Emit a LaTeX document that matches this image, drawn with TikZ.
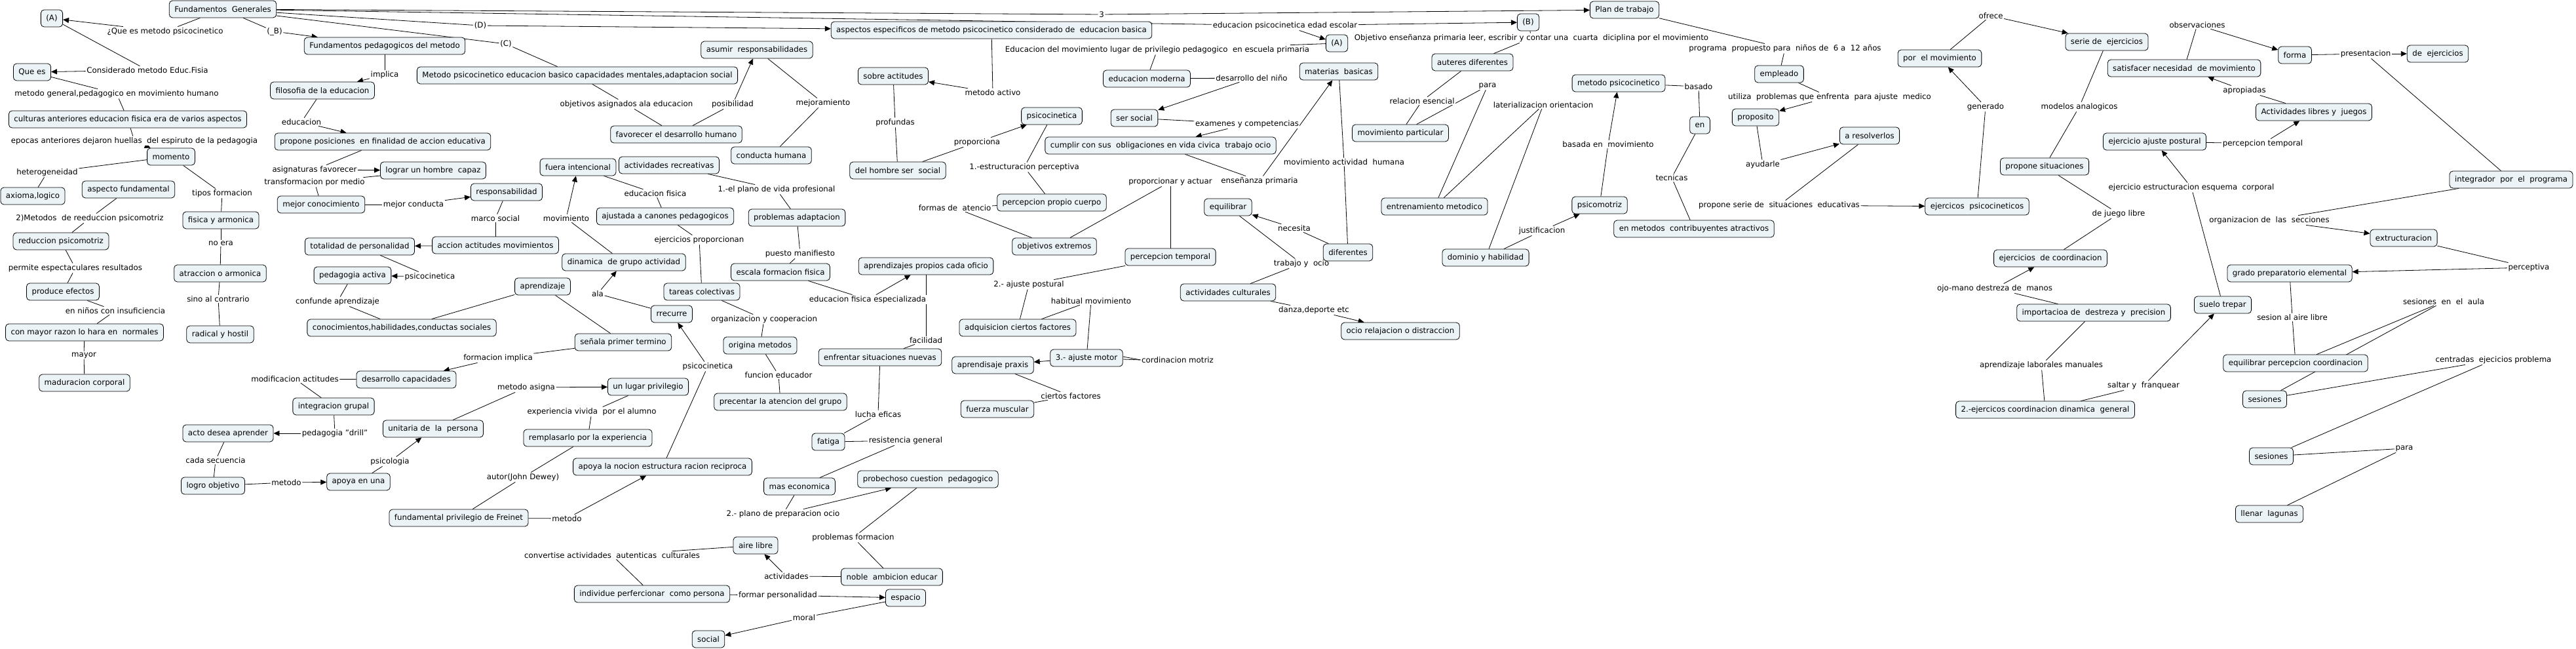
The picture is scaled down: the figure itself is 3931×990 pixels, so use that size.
\documentclass[tikz,border=0pt]{standalone}
\usepackage{fontspec}
\setmainfont{DejaVu Sans}
\usepackage{tikz}
\usetikzlibrary{arrows.meta, positioning}
\definecolor{conceptfill}{RGB}{236,243,246}
\pgfdeclarelayer{background}
\pgfsetlayers{background,main}

\begin{document}
\begin{tikzpicture}[x=1pt, y=-1pt,
    font=\fontsize{11.8}{14}\selectfont,
    concept/.style={rectangle, draw=black, line width=0.8pt, fill=conceptfill,
                    rounded corners=5pt, inner xsep=8pt, inner ysep=4pt, minimum height=26pt},
    phrase/.style={fill=white, inner sep=1.5pt},
    lnk/.style={line width=0.8pt},
    lnka/.style={lnk, -{Triangle[length=9pt,width=8pt]}}
]
    \useasboundingbox (0,0) rectangle (3931,990);

    % Left column
    \node[concept] (fg) at (340,14) {Fundamentos~~Generales};
    \node[concept] (A1) at (79,28) {(A)};
    \node[concept] (queEs) at (49,110) {Que es};
    \node[concept] (cult) at (195,182) {culturas anteriores educacion fisica era de varios aspectos};
    \node[concept] (mom) at (261,239) {momento};
    \node[concept] (axi) at (50,299) {axioma,logico};
    \node[concept] (aspf) at (196,289) {aspecto fundamental};
    \node[concept] (fisarm) at (337,336) {fisica y armonica};
    \node[concept] (redp) at (93,368) {reduccion psicomotriz};
    \node[concept] (atra) at (336,417) {atraccion o armonica};
    \node[concept] (produce) at (96,445) {produce efectos};
    \node[concept] (conmay) at (129,507) {con mayor razon lo hara en~~normales};
    \node[concept] (radical) at (336,510) {radical y hostil};
    \node[concept] (madur) at (129,584) {maduracion corporal};

    \node[phrase] (lQue) at (252,48) {¿Que es metodo psicocinetico};
    \node[phrase] (lB) at (419,48) {(\_B)};
    \node[phrase] (lCons) at (225,107) {Considerado metodo Educ.Fisia};
    \node[phrase] (lMetg) at (178,143) {metodo general,pedagogico en movimiento humano};
    \node[phrase] (lEpo) at (205,215) {epocas anteriores dejaron huellas~~del espiruto de la pedagogia};
    \node[phrase] (lHet) at (72,263) {heterogeneidad};
    \node[phrase] (lTip) at (339,295) {tipos formacion};
    \node[phrase] (lMet2) at (137,333) {2)Metodos~~de reeduccion psicomotriz};
    \node[phrase] (lNo) at (337,371) {no era};
    \node[phrase] (lPerm) at (115,409) {permite espectaculares resultados};
    \node[phrase] (lSino) at (333,456) {sino al contrario};
    \node[phrase] (lNin) at (176,474) {en niños con insuficiencia};
    \node[phrase] (lMay) at (128,542) {mayor};

    % Fundamentos pedagogicos
    \node[concept] (fp) at (587,70) {Fundamentos pedagogicos del metodo};
    \node[concept] (filo) at (492,138) {filosofia de la educacion};
    \node[concept] (propos) at (584,216) {propone posiciones~~en finalidad de accion educativa};
    \node[concept] (lograr) at (661,260) {lograr un hombre~~capaz};
    \node[concept] (mejcon) at (490,312) {mejor conocimiento};
    \node[concept] (resp) at (773,293) {responsabilidad};
    \node[concept] (accion) at (756,374) {accion actitudes movimientos};
    \node[concept] (totp) at (549,376) {totalidad de personalidad};
    \node[concept] (pedact) at (538,420) {pedagogia activa};
    \node[concept] (conoc) at (613,500) {conocimientos,habilidades,conductas sociales};
    \node[concept] (desc) at (620,579) {desarrollo capacidades};
    \node[concept] (integ) at (509,620) {integracion grupal};
    \node[concept] (acto) at (348,661) {acto desea aprender};
    \node[concept] (unit) at (661,654) {unitaria de~~la~~persona};
    \node[concept] (logro) at (325,741) {logro objetivo};
    \node[concept] (apoya1) at (547,735) {apoya en una};
    \node[concept] (freinet) at (700,790) {fundamental privilegio de Freinet};

    \node[phrase] (lImp) at (587,114) {implica};
    \node[phrase] (lEdu) at (460,186) {educacion};
    \node[phrase] (lAsig) at (480,259) {asignaturas favorecer};
    \node[phrase] (lTrans) at (480,278) {transformacion por medio};
    \node[phrase] (lMejc) at (631,312) {mejor conducta};
    \node[phrase] (lMarco) at (756,333) {marco social};
    \node[phrase] (lPsi1) at (656,422) {psicocinetica};
    \node[phrase] (lConf) at (515,460) {confunde aprendizaje};
    \node[phrase] (lMod) at (450,578) {modificacion actitudes};
    \node[phrase] (lDrill) at (511,661) {pedagogia "drill"};
    \node[phrase] (lCada) at (329,702) {cada secuencia};
    \node[phrase] (lPsiC) at (595,704) {psicologia};
    \node[phrase] (lMet3) at (437,736) {metodo};

    % Metodo psicocinetico (C)
    \node[concept] (metpsi) at (881,115) {Metodo psicocinetico educacion basico capacidades mentales,adaptacion social};
    \node[concept] (asumir) at (1155,76) {asumir~~responsabilidades};
    \node[concept] (favor) at (1032,205) {favorecer el desarrollo humano};
    \node[concept] (conduc) at (1177,237) {conducta humana};
    \node[concept] (fuera) at (882,255) {fuera intencional};
    \node[concept] (actrec) at (1021,252) {actividades recreativas};
    \node[concept] (ajust) at (1015,330) {ajustada a canones pedagogicos};
    \node[concept] (probad) at (1216,332) {problemas adaptacion};
    \node[concept] (dinam) at (952,400) {dinamica~~de grupo actividad};
    \node[concept] (escala) at (1191,415) {escala formacion fisica};
    \node[concept] (aprend) at (828,437) {aprendizaje};
    \node[concept] (tareas) at (1071,445) {tareas colectivas};
    \node[concept] (rrec) at (1025,479) {rrecurre};
    \node[concept] (senala) at (951,522) {señala primer termino};
    \node[concept] (origina) at (1160,527) {origina metodos};
    \node[concept] (lugar) at (989,590) {un lugar privilegio};
    \node[concept] (precent) at (1191,613) {precentar la atencion del grupo};
    \node[concept] (rempl) at (897,668) {remplasarlo por la experiencia};
    \node[concept] (apoya2) at (1011,712) {apoya la nocion estructura racion reciproca};
    \node[concept] (fatiga) at (1264,674) {fatiga};
    \node[concept] (masec) at (1220,742) {mas economica};
    \node[concept] (aire) at (1153,832) {aire libre};
    \node[concept] (noble) at (1361,880) {noble~~ambicion educar};
    \node[concept] (indiv) at (995,906) {individue perfercionar~~como persona};
    \node[concept] (espacio) at (1382,912) {espacio};
    \node[concept] (social) at (1081,975) {social};

    \node[phrase] (lD) at (733,39) {(D)};
    \node[phrase] (lC) at (772,67) {(C)};
    \node[phrase] (lObj) at (956,159) {objetivos asignados ala educacion};
    \node[phrase] (lPos) at (1118,159) {posibilidad};
    \node[phrase] (lMej) at (1256,157) {mejoramiento};
    \node[phrase] (lEdf) at (1000,295) {educacion fisica};
    \node[phrase] (lPlano) at (1185,289) {1.-el plano de vida profesional};
    \node[phrase] (lMov) at (864,333) {movimiento};
    \node[phrase] (lEjer) at (1067,366) {ejercicios proporcionan};
    \node[phrase] (lPuesto) at (1221,387) {puesto manifiesto};
    \node[phrase] (lAla) at (912,448) {ala};
    \node[phrase] (lEdfe) at (1324,457) {educacion fisica especializada};
    \node[phrase] (lOrg) at (1166,487) {organizacion y cooperacion};
    \node[phrase] (lForm) at (760,546) {formacion implica};
    \node[phrase] (lPsi2) at (1080,559) {psicocinetica};
    \node[phrase] (lFunc) at (1188,572) {funcion educador};
    \node[phrase] (lAsigna) at (803,591) {metodo asigna};
    \node[phrase] (lExp) at (903,628) {experiencia vivida~~por el alumno};
    \node[phrase] (lAutor) at (798,728) {autor(John Dewey)};
    \node[phrase] (lMet4) at (865,791) {metodo};
    \node[phrase] (lPlano2) at (1195,784) {2.- plano de preparacion ocio};
    \node[phrase] (lProbf) at (1302,820) {problemas formacion};
    \node[phrase] (lConv) at (934,847) {convertise actividades~~autenticas~~culturales};
    \node[phrase] (lAct) at (1200,879) {actividades};
    \node[phrase] (lFormp) at (1187,908) {formar personalidad};
    \node[phrase] (lMoral) at (1227,942) {moral};

    % Aspectos especificos (D)
    \node[concept] (aspe) at (1513,46) {aspectos especificos de metodo psicocinetico considerado de~~educacion basica};
    \node[concept] (sobre) at (1363,116) {sobre actitudes};
    \node[concept] (edmod) at (1750,120) {educacion moderna};
    \node[concept] (psico) at (1605,177) {psicocinetica};
    \node[concept] (sersoc) at (1731,180) {ser social};
    \node[concept] (cumplir) at (1771,222) {cumplir con sus~~obligaciones en vida civica~~trabajo ocio};
    \node[concept] (delhom) at (1370,260) {del hombre ser~~social};
    \node[concept] (percpc) at (1605,309) {percepcion propio cuerpo};
    \node[concept] (equil) at (1874,316) {equilibrar};
    \node[concept] (objext) at (1609,376) {objetivos extremos};
    \node[concept] (perctemp) at (1786,392) {percepcion temporal};
    \node[concept] (aprof) at (1413,406) {aprendizajes propios cada oficio};
    \node[concept] (actcult) at (1874,446) {actividades culturales};
    \node[concept] (adq) at (1553,500) {adquisicion ciertos factores};
    \node[concept] (enfr) at (1343,545) {enfrentar situaciones nuevas};
    \node[concept] (aprax) at (1515,557) {aprendisaje praxis};
    \node[concept] (ajmot) at (1658,546) {3.- ajuste motor};
    \node[concept] (fuerza) at (1522,624) {fuerza muscular};
    \node[concept] (probech) at (1416,731) {probechoso cuestion~~pedagogico};
    \node[concept] (ocio) at (2137,505) {ocio relajacion o distraccion};

    \node[phrase] (l3) at (1681,22) {3};
    \node[phrase] (lEdpsi) at (1961,39) {educacion psicocinetica edad escolar};
    \node[phrase] (lActivo) at (1515,141) {metodo activo};
    \node[phrase] (lEdmov) at (1766,76) {Educacion del movimiento lugar de privilegio pedagogico~~en escuela primaria};
    \node[phrase] (lDesn) at (1910,119) {desarrollo del niño};
    \node[phrase] (lProf) at (1366,187) {profundas};
    \node[phrase] (lExam) at (1903,189) {examenes y competencias};
    \node[phrase] (lProp) at (1491,217) {proporciona};
    \node[phrase] (lEstr) at (1563,255) {1.-estructuracion perceptiva};
    \node[phrase] (lPyA) at (1786,277) {proporcionar y actuar};
    \node[phrase] (lEns) at (1922,276) {enseñanza primaria};
    \node[phrase] (lFormas) at (1457,317) {formas de~~atencio};
    \node[phrase] (lAjp) at (1570,434) {2.- ajuste postural};
    \node[phrase] (lHab) at (1665,459) {habitual movimiento};
    \node[phrase] (lNec) at (1975,348) {necesita};
    \node[phrase] (lTrab) at (1986,402) {trabajo y~~ocio};
    \node[phrase] (lDanza) at (2005,473) {danza,deporte etc};
    \node[phrase] (lFac) at (1413,519) {facilidad};
    \node[phrase] (lCord) at (1797,549) {cordinacion motriz};
    \node[phrase] (lCier) at (1634,604) {ciertos factores};
    \node[phrase] (lLucha) at (1340,632) {lucha eficas};
    \node[phrase] (lRes) at (1382,672) {resistencia general};

    % Plan de trabajo
    \node[concept] (A2) at (2040,66) {(A)};
    \node[concept] (B) at (2332,34) {(B)};
    \node[concept] (plan) at (2479,15) {Plan de trabajo};
    \node[concept] (materias) at (2043,109) {materias~~basicas};
    \node[concept] (diferentes) at (2057,385) {diferentes};
    \node[concept] (auteres) at (2247,95) {auteres diferentes};
    \node[concept] (movpart) at (2137,203) {movimiento particular};
    \node[concept] (entren) at (2189,315) {entrenamiento metodico};
    \node[concept] (dominio) at (2267,393) {dominio y habilidad};
    \node[concept] (psicomot) at (2441,313) {psicomotriz};
    \node[concept] (metpsic) at (2470,127) {metodo psicocinetico};
    \node[concept] (en) at (2594,191) {en};
    \node[concept] (enmet) at (2585,349) {en metodos~~contribuyentes atractivos};
    \node[concept] (empleado) at (2715,113) {empleado};
    \node[concept] (propo) at (2679,179) {proposito};
    \node[concept] (resol) at (2853,207) {a resolverlos};
    \node[concept] (ejpsi) at (3017,315) {ejercicos~~psicocineticos};
    \node[concept] (porel) at (2960,89) {por~~el movimiento};

    \node[phrase] (lMovh) at (2051,247) {movimiento actividad~~humana};
    \node[phrase] (lObjE) at (2337,58) {Objetivo enseñanza primaria leer, escribir y contar una~~cuarta~~diciplina por el movimiento};
    \node[phrase] (lProg) at (2724,74) {programa~~propuesto para~~niños de~~6 a~~12 años};
    \node[phrase] (lPara1) at (2270,131) {para};
    \node[phrase] (lRel) at (2170,154) {relacion esencial};
    \node[phrase] (lLat) at (2355,160) {laterializacion orientacion};
    \node[phrase] (lJust) at (2353,352) {justificacion};
    \node[phrase] (lBasm) at (2454,220) {basada en~~movimiento};
    \node[phrase] (lBasado) at (2592,132) {basado};
    \node[phrase] (lTec) at (2551,271) {tecnicas};
    \node[phrase] (lPropS) at (2715,313) {propone serie de~~situaciones~~educativas};
    \node[phrase] (lUtil) at (2792,148) {utiliza~~problemas que enfrenta~~para ajuste~~medico};
    \node[phrase] (lAyu) at (2690,251) {ayudarle};
    \node[phrase] (lOfr) at (3038,24) {ofrece};
    \node[phrase] (lGen) at (3030,163) {generado};

    % Ejercicios
    \node[concept] (serie) at (3215,64) {serie de~~ejercicios};
    \node[concept] (propsit) at (3120,254) {propone situaciones};
    \node[concept] (ejcoord) at (3129,394) {ejercicios~~de coordinacion};
    \node[concept] (import) at (3195,477) {importacioa de~~destreza y~~precision};
    \node[concept] (ejgen) at (3121,625) {2.-ejercicos coordinacion dinamica~~general};
    \node[concept] (satisf) at (3333,104) {satisfacer necesidad~~de movimiento};
    \node[concept] (ejaj) at (3288,216) {ejercicio ajuste postural};
    \node[concept] (forma) at (3502,84) {forma};
    \node[concept] (deej) at (3720,82) {de~~ejercicios};
    \node[concept] (actlib) at (3531,171) {Actividades libres y~~juegos};
    \node[concept] (integr) at (3832,274) {integrador~~por~~el~~programa};
    \node[concept] (extr) at (3668,363) {extructuracion};
    \node[concept] (grado) at (3494,417) {grado preparatorio elemental};
    \node[concept] (suelo) at (3392,465) {suelo trepar};
    \node[concept] (eqperc) at (3503,554) {equilibrar percepcion coordinacion};
    \node[concept] (ses1) at (3456,609) {sesiones};
    \node[concept] (ses2) at (3466,696) {sesiones};
    \node[concept] (llenar) at (3463,784) {llenar~~lagunas};

    \node[phrase] (lModa) at (3173,163) {modelos analogicos};
    \node[phrase] (lJueg) at (3233,326) {de juego libre};
    \node[phrase] (lOjo) at (3044,440) {ojo-mano destreza de~~manos};
    \node[phrase] (lEjest) at (3344,286) {ejercicio estructuracion esquema~~corporal};
    \node[phrase] (lAprl) at (3115,557) {aprendizaje laborales manuales};
    \node[phrase] (lSalt) at (3271,588) {saltar y~~franquear};
    \node[phrase] (lObs) at (3353,38) {observaciones};
    \node[phrase] (lPres) at (3610,82) {presentacion};
    \node[phrase] (lApro) at (3425,138) {apropiadas};
    \node[phrase] (lPerct) at (3453,219) {percepcion temporal};
    \node[phrase] (lOrgs) at (3463,336) {organizacion de~~las~~secciones};
    \node[phrase] (lPercp) at (3859,408) {perceptiva};
    \node[phrase] (lSesa) at (3498,484) {sesion al aire libre};
    \node[phrase] (lSesau) at (3729,460) {sesiones~~en~~el~~aula};
    \node[phrase] (lCent) at (3805,549) {centradas~~ejecicios problema};
    \node[phrase] (lPara2) at (3669,684) {para};

    % Links
    \begin{pgfonlayer}{background}
    \fill[white] (0,0) rectangle (3931,990);
    \draw[lnk] (fg) -- (lQue); \draw[lnka] (lQue) -- (A1);
    \draw[lnk] (A1) -- (lCons); \draw[lnka] (lCons) -- (queEs);
    \draw[lnk] (queEs) -- (lMetg); \draw[lnk] (lMetg) -- (cult);
    \draw[lnk] (cult) -- (lEpo); \draw[lnka] (lEpo) -- (mom);
    \draw[lnk] (mom) -- (lHet); \draw[lnk] (lHet) -- (axi);
    \draw[lnk] (aspf) -- (lMet2); \draw[lnk] (lMet2) -- (redp);
    \draw[lnk] (redp) -- (lPerm); \draw[lnk] (lPerm) -- (produce);
    \draw[lnk] (produce) -- (lNin); \draw[lnk] (lNin) -- (conmay);
    \draw[lnk] (conmay) -- (lMay); \draw[lnk] (lMay) -- (madur);
    \draw[lnk] (mom) -- (lTip); \draw[lnk] (lTip) -- (fisarm);
    \draw[lnk] (fisarm) -- (lNo); \draw[lnk] (lNo) -- (atra);
    \draw[lnk] (atra) -- (lSino); \draw[lnk] (lSino) -- (radical);

    \draw[lnk] (fg) -- (lB); \draw[lnka] (lB) -- (fp);
    \draw[lnk] (fp) -- (lImp); \draw[lnka] (lImp) -- (filo);
    \draw[lnk] (filo) -- (lEdu); \draw[lnka] (lEdu) -- (propos);
    \draw[lnk] (propos) -- (lAsig); \draw[lnka] (lAsig) -- (lograr);
    \draw[lnk] (lograr) -- (lTrans); \draw[lnk] (lTrans) -- (mejcon);
    \draw[lnk] (mejcon) -- (lMejc); \draw[lnka] (lMejc) -- (resp);
    \draw[lnk] (resp) -- (lMarco); \draw[lnk] (lMarco) -- (accion);
    \draw[lnka] (accion) -- (totp);
    \draw[lnk] (totp) -- (lPsi1); \draw[lnka] (lPsi1) -- (pedact);
    \draw[lnk] (pedact) -- (lConf); \draw[lnk] (lConf) -- (conoc);

    \draw[lnk] (fg) -- (lD); \draw[lnka] (lD) -- (aspe);
    \draw[lnk] (fg) -- (lC); \draw[lnk] (lC) -- (metpsi);
    \draw[lnk] (fg) -- (l3); \draw[lnka] (l3) -- (plan);
    \draw[lnk] (fg) -- (lEdpsi); \draw[lnka] (lEdpsi) -- (B); \draw[lnka] (lEdpsi) -- (A2);

    \draw[lnk] (metpsi) -- (lObj); \draw[lnk] (lObj) -- (favor);
    \draw[lnk] (favor) -- (lPos); \draw[lnka] (lPos) -- (asumir);
    \draw[lnk] (asumir) -- (lMej); \draw[lnk] (lMej) -- (conduc);
    \draw[lnk] (actrec) -- (lPlano); \draw[lnk] (lPlano) -- (probad);
    \draw[lnk] (probad) -- (lPuesto); \draw[lnk] (lPuesto) -- (escala);
    \draw[lnk] (escala) -- (lEdfe); \draw[lnka] (lEdfe) -- (aprof);
    \draw[lnk] (fuera) -- (lEdf); \draw[lnk] (lEdf) -- (ajust);
    \draw[lnk] (ajust) -- (lEjer); \draw[lnk] (lEjer) -- (tareas);
    \draw[lnk] (tareas) -- (lOrg); \draw[lnk] (lOrg) -- (origina);
    \draw[lnk] (origina) -- (lFunc); \draw[lnk] (lFunc) -- (precent);
    \draw[lnk] (dinam) -- (lMov); \draw[lnka] (lMov) -- (fuera);
    \draw[lnk] (rrec) -- (lAla); \draw[lnka] (lAla) -- (dinam);
    \draw[lnk] (aprend) -- (conoc);
    \draw[lnk] (aprend) -- (senala);
    \draw[lnk] (apoya2) -- (lPsi2); \draw[lnka] (lPsi2) -- (rrec);
    \draw[lnk] (senala) -- (lForm); \draw[lnka] (lForm) -- (desc);
    \draw[lnk] (desc) -- (lMod); \draw[lnk] (lMod) -- (integ);
    \draw[lnk] (integ) -- (lDrill); \draw[lnka] (lDrill) -- (acto);
    \draw[lnk] (acto) -- (lCada); \draw[lnk] (lCada) -- (logro);
    \draw[lnk] (logro) -- (lMet3); \draw[lnka] (lMet3) -- (apoya1);
    \draw[lnk] (apoya1) -- (lPsiC); \draw[lnka] (lPsiC) -- (unit);
    \draw[lnk] (unit) -- (lAsigna); \draw[lnka] (lAsigna) -- (lugar);
    \draw[lnk] (lugar) -- (lExp); \draw[lnk] (lExp) -- (rempl);
    \draw[lnk] (rempl) -- (lAutor); \draw[lnk] (lAutor) -- (freinet);
    \draw[lnk] (freinet) -- (lMet4); \draw[lnka] (lMet4) -- (apoya2);
    \draw[lnk] (aire) -- (lConv); \draw[lnk] (lConv) -- (indiv);
    \draw[lnk] (noble) -- (lAct); \draw[lnka] (lAct) -- (aire);
    \draw[lnk] (noble) -- (lProbf); \draw[lnk] (lProbf) -- (probech);
    \draw[lnk] (indiv) -- (lFormp); \draw[lnka] (lFormp) -- (espacio);
    \draw[lnk] (espacio) -- (lMoral); \draw[lnka] (lMoral) -- (social);
    \draw[lnk] (masec) -- (lPlano2); \draw[lnka] (lPlano2) -- (probech);
    \draw[lnk] (fatiga) -- (lRes); \draw[lnk] (lRes) -- (masec);
    \draw[lnk] (fatiga) -- (lLucha); \draw[lnk] (lLucha) -- (enfr);
    \draw[lnk] (enfr) -- (lFac); \draw[lnk] (lFac) -- (aprof);

    \draw[lnk] (aspe) -- (lActivo); \draw[lnka] (lActivo) -- (sobre);
    \draw[lnk] (sobre) -- (lProf); \draw[lnk] (lProf) -- (delhom);
    \draw[lnk] (delhom) -- (lProp); \draw[lnka] (lProp) -- (psico);
    \draw[lnk] (psico) -- (lEstr); \draw[lnk] (lEstr) -- (percpc);
    \draw[lnk] (percpc) -- (lFormas); \draw[lnk] (lFormas) -- (objext);
    \draw[lnk] (objext) -- (lPyA); \draw[lnk] (lPyA) -- (perctemp);
    \draw[lnk] (perctemp) -- (lAjp); \draw[lnk] (lAjp) -- (adq);
    \draw[lnk] (adq) -- (lHab); \draw[lnk] (lHab) -- (ajmot);
    \draw[lnka] (ajmot) -- (aprax);
    \draw[lnk] ([yshift=-2pt]ajmot.east) -- (lCord.west);
    \draw[lnk] ([yshift=2pt]ajmot.east) -- (lCord.west);
    \draw[lnk] (aprax) -- (lCier); \draw[lnk] (lCier) -- (fuerza);
    \draw[lnk] (A2) -- (lEdmov); \draw[lnk] (lEdmov) -- (edmod);
    \draw[lnk] (edmod) -- (lDesn); \draw[lnka] (lDesn) -- (sersoc);
    \draw[lnk] (sersoc) -- (lExam); \draw[lnka] (lExam) -- (cumplir);
    \draw[lnk] (cumplir) -- (lEns); \draw[lnka] (lEns) -- (materias);
    \draw[lnk] (materias) -- (lMovh); \draw[lnk] (lMovh) -- (diferentes);
    \draw[lnk] (diferentes) -- (lNec); \draw[lnka] (lNec) -- (equil);
    \draw[lnk] (equil) -- (lTrab); \draw[lnk] (lTrab) -- (actcult);
    \draw[lnk] (actcult) -- (lDanza); \draw[lnka] (lDanza) -- (ocio);

    \draw[lnk] (B) -- (lObjE); \draw[lnk] (lObjE) -- (auteres);
    \draw[lnk] (auteres) -- (lRel); \draw[lnk] (lRel) -- (movpart);
    \draw[lnk] (movpart) -- (lPara1); \draw[lnk] (lPara1) -- (entren);
    \draw[lnk] (entren) -- (lLat); \draw[lnk] (lLat) -- (dominio);
    \draw[lnk] (dominio) -- (lJust); \draw[lnka] (lJust) -- (psicomot);
    \draw[lnk] (psicomot) -- (lBasm); \draw[lnka] (lBasm) -- (metpsic);
    \draw[lnk] (metpsic) -- (lBasado); \draw[lnk] (lBasado) -- (en);
    \draw[lnk] (en) -- (lTec); \draw[lnk] (lTec) -- (enmet);
    \draw[lnk] (plan) -- (lProg); \draw[lnk] (lProg) -- (empleado);
    \draw[lnk] (empleado) -- (lUtil); \draw[lnka] (lUtil) -- (propo);
    \draw[lnk] (propo) -- (lAyu); \draw[lnka] (lAyu) -- (resol);
    \draw[lnk] (resol) -- (lPropS); \draw[lnka] (lPropS) -- (ejpsi);
    \draw[lnk] (ejpsi) -- (lGen); \draw[lnka] (lGen) -- (porel);
    \draw[lnk] (porel) -- (lOfr); \draw[lnka] (lOfr) -- (serie);

    \draw[lnk] (serie) -- (lModa); \draw[lnk] (lModa) -- (propsit);
    \draw[lnk] (propsit) -- (lJueg); \draw[lnk] (lJueg) -- (ejcoord);
    \draw[lnk] (import) -- (lOjo); \draw[lnka] (lOjo) -- (ejcoord);
    \draw[lnk] (import) -- (lAprl); \draw[lnk] (lAprl) -- (ejgen);
    \draw[lnk] (ejgen) -- (lSalt); \draw[lnka] (lSalt) -- (suelo);
    \draw[lnk] (suelo) -- (lEjest); \draw[lnka] (lEjest) -- (ejaj);
    \draw[lnk] (ejaj) -- (lPerct); \draw[lnka] (lPerct) -- (actlib);
    \draw[lnk] (actlib) -- (lApro); \draw[lnka] (lApro) -- (satisf);
    \draw[lnk] (satisf) -- (lObs); \draw[lnka] (lObs) -- (forma);
    \draw[lnk] (forma) -- (lPres); \draw[lnka] (lPres) -- (deej);
    \draw[lnk] (integr) -- (lPres);
    \draw[lnk] (integr) -- (lOrgs); \draw[lnka] (lOrgs) -- (extr);
    \draw[lnk] (extr) -- (lPercp); \draw[lnka] (lPercp) -- (grado);
    \draw[lnk] (grado) -- (lSesa); \draw[lnk] (lSesa) -- (eqperc);
    \draw[lnk] (lSesau) -- (eqperc); \draw[lnk] (lSesau) -- (ses1);
    \draw[lnk] (lCent) -- (ses1); \draw[lnk] (lCent) -- (ses2);
    \draw[lnk] (ses2) -- (lPara2); \draw[lnk] (lPara2) -- (llenar);
    \end{pgfonlayer}
\end{tikzpicture}
\end{document}
